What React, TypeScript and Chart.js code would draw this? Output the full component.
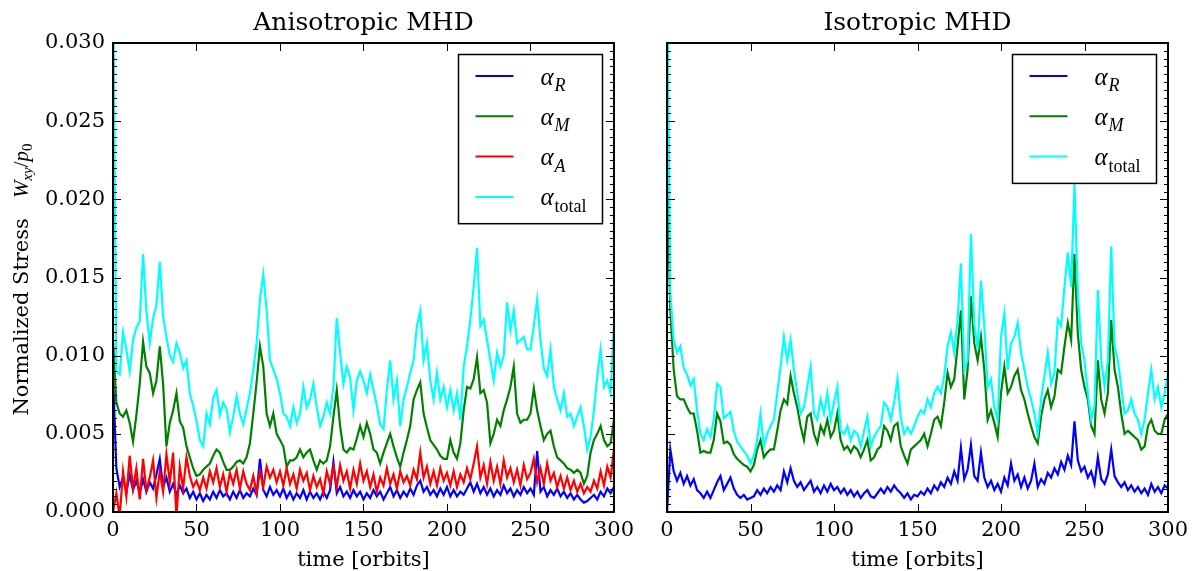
import React, { useEffect, useRef } from "react";
import { Chart, registerables } from "chart.js";

Chart.register(...registerables);

// ---------- data ----------
const TIME: number[] = Array.from({ length: 151 }, (_, i) => i * 2); // orbits 0..300, step 2
const X_TICKS = [0, 50, 100, 150, 200, 250, 300];
const Y_TICKS = [0, 0.005, 0.01, 0.015, 0.02, 0.025, 0.03];
const Y_TICK_LABELS = ["0.000", "0.005", "0.010", "0.015", "0.020", "0.025", "0.030"];
const PANEL_TITLES = ["Anisotropic MHD", "Isotropic MHD"];
const X_LABEL = "time [orbits]";
const Y_LABEL = "Normalized Stress";

// Anisotropic MHD
const ANISO_R = [0.0088,
  0.0028, 0.0016, 0.0022, 0.0013, 0.0024, 0.0014, 0.0020, 0.0012, 0.0021, 0.0013,
  0.0019, 0.0015, 0.0024, 0.0034, 0.0016, 0.0022, 0.0013, 0.0018, 0.0011, 0.0017,
  0.0012, 0.0015, 0.0009, 0.0013, 0.0008, 0.0012, 0.0007, 0.0011, 0.0008, 0.0013,
  0.0009, 0.0014, 0.0010, 0.0012, 0.0008, 0.0013, 0.0009, 0.0014, 0.0009, 0.0012,
  0.0010, 0.0015, 0.0011, 0.0034, 0.0014, 0.0010, 0.0016, 0.0011, 0.0014, 0.0010,
  0.0015, 0.0009, 0.0013, 0.0008, 0.0012, 0.0009, 0.0014, 0.0008, 0.0013, 0.0009,
  0.0012, 0.0008, 0.0013, 0.0009, 0.0014, 0.0032, 0.0012, 0.0016, 0.0010, 0.0013,
  0.0009, 0.0014, 0.0010, 0.0013, 0.0008, 0.0012, 0.0009, 0.0014, 0.0010, 0.0013,
  0.0008, 0.0012, 0.0016, 0.0010, 0.0014, 0.0009, 0.0013, 0.0010, 0.0015, 0.0011,
  0.0017, 0.0020, 0.0013, 0.0016, 0.0011, 0.0014, 0.0010, 0.0015, 0.0011, 0.0016,
  0.0010, 0.0014, 0.0010, 0.0013, 0.0011, 0.0015, 0.0019, 0.0013, 0.0018, 0.0012,
  0.0016, 0.0011, 0.0015, 0.0010, 0.0014, 0.0011, 0.0017, 0.0012, 0.0015, 0.0010,
  0.0014, 0.0011, 0.0016, 0.0012, 0.0015, 0.0011, 0.0039, 0.0013, 0.0016, 0.0010,
  0.0014, 0.0011, 0.0015, 0.0010, 0.0013, 0.0009, 0.0012, 0.0008, 0.0011, 0.0008,
  0.0006, 0.0007, 0.0009, 0.0011, 0.0008, 0.0013, 0.0010, 0.0015, 0.0012, 0.0016];

const ANISO_M = [0.0110,
  0.0070, 0.0063, 0.0061, 0.0065, 0.0057, 0.0045, 0.0062, 0.0082, 0.0109, 0.0093,
  0.0089, 0.0076, 0.0084, 0.0106, 0.0082, 0.0042, 0.0057, 0.0065, 0.0076, 0.0058,
  0.0054, 0.0042, 0.0035, 0.0028, 0.0023, 0.0024, 0.0027, 0.0029, 0.0031, 0.0036,
  0.0040, 0.0038, 0.0032, 0.0027, 0.0027, 0.0029, 0.0032, 0.0033, 0.0031, 0.0035,
  0.0044, 0.0063, 0.0083, 0.0106, 0.0093, 0.0063, 0.0055, 0.0063, 0.0050, 0.0046,
  0.0042, 0.0029, 0.0033, 0.0033, 0.0035, 0.0040, 0.0035, 0.0038, 0.0040, 0.0033,
  0.0027, 0.0033, 0.0031, 0.0033, 0.0042, 0.0061, 0.0078, 0.0055, 0.0040, 0.0038,
  0.0041, 0.0040, 0.0047, 0.0055, 0.0048, 0.0057, 0.0050, 0.0040, 0.0038, 0.0031,
  0.0038, 0.0044, 0.0050, 0.0042, 0.0035, 0.0029, 0.0038, 0.0046, 0.0055, 0.0072,
  0.0078, 0.0083, 0.0063, 0.0054, 0.0046, 0.0043, 0.0040, 0.0036, 0.0034, 0.0034,
  0.0046, 0.0038, 0.0034, 0.0044, 0.0065, 0.0080, 0.0079, 0.0085, 0.0099, 0.0076,
  0.0078, 0.0070, 0.0044, 0.0050, 0.0059, 0.0055, 0.0065, 0.0072, 0.0080, 0.0093,
  0.0063, 0.0057, 0.0059, 0.0059, 0.0063, 0.0079, 0.0065, 0.0055, 0.0046, 0.0050,
  0.0052, 0.0042, 0.0035, 0.0033, 0.0031, 0.0028, 0.0027, 0.0025, 0.0027, 0.0025,
  0.0018, 0.0023, 0.0038, 0.0046, 0.0050, 0.0055, 0.0046, 0.0042, 0.0044, 0.0059];

const ANISO_A = [0.0000,
  0.0012, -0.0003, 0.0026, 0.0010, 0.0036, 0.0015, 0.0028, 0.0008, 0.0034, 0.0014,
  0.0022, 0.0033, 0.0009, 0.0026, 0.0013, 0.0037, 0.0019, 0.0038, -0.0003, 0.0029,
  0.0015, 0.0035, 0.0023, 0.0016, 0.0020, 0.0014, 0.0022, 0.0015, 0.0026, 0.0019,
  0.0028, 0.0016, 0.0024, 0.0013, 0.0025, 0.0018, 0.0027, 0.0015, 0.0026, 0.0018,
  0.0014, 0.0023, 0.0012, 0.0026, 0.0016, 0.0029, 0.0022, 0.0027, 0.0019, 0.0026,
  0.0017, 0.0028, 0.0018, 0.0024, 0.0015, 0.0027, 0.0020, 0.0025, 0.0014, 0.0023,
  0.0016, 0.0021, 0.0012, 0.0026, 0.0018, 0.0029, 0.0016, 0.0030, 0.0020, 0.0026,
  0.0015, 0.0027, 0.0018, 0.0031, 0.0020, 0.0026, 0.0016, 0.0024, 0.0013, 0.0022,
  0.0017, 0.0028, 0.0018, 0.0024, 0.0015, 0.0026, 0.0019, 0.0023, 0.0017, 0.0027,
  0.0021, 0.0038, 0.0022, 0.0029, 0.0018, 0.0026, 0.0017, 0.0028, 0.0020, 0.0025,
  0.0017, 0.0026, 0.0016, 0.0024, 0.0019, 0.0028, 0.0021, 0.0031, 0.0042, 0.0022,
  0.0030, 0.0018, 0.0032, 0.0020, 0.0029, 0.0018, 0.0033, 0.0022, 0.0028, 0.0019,
  0.0027, 0.0017, 0.0030, 0.0021, 0.0025, 0.0034, 0.0019, 0.0028, 0.0018, 0.0031,
  0.0020, 0.0025, 0.0016, 0.0023, 0.0015, 0.0022, 0.0014, 0.0020, 0.0013, 0.0018,
  0.0012, 0.0016, 0.0013, 0.0020, 0.0015, 0.0026, 0.0017, 0.0029, 0.0022, 0.0040];

const ANISO_TOTAL = [0.0350,
  0.0090, 0.0088, 0.0115, 0.0104, 0.0090, 0.0110, 0.0118, 0.0122, 0.0165, 0.0128,
  0.0108, 0.0124, 0.0132, 0.0160, 0.0125, 0.0112, 0.0100, 0.0096, 0.0108, 0.0102,
  0.0092, 0.0097, 0.0076, 0.0068, 0.0058, 0.0046, 0.0042, 0.0063, 0.0056, 0.0073,
  0.0078, 0.0062, 0.0070, 0.0066, 0.0051, 0.0061, 0.0074, 0.0063, 0.0056, 0.0066,
  0.0076, 0.0091, 0.0108, 0.0136, 0.0152, 0.0129, 0.0097, 0.0091, 0.0085, 0.0076,
  0.0063, 0.0061, 0.0055, 0.0067, 0.0057, 0.0063, 0.0080, 0.0067, 0.0072, 0.0082,
  0.0067, 0.0055, 0.0061, 0.0070, 0.0063, 0.0080, 0.0124, 0.0102, 0.0082, 0.0093,
  0.0086, 0.0065, 0.0084, 0.0090, 0.0084, 0.0076, 0.0088, 0.0078, 0.0068, 0.0056,
  0.0053, 0.0078, 0.0097, 0.0072, 0.0084, 0.0055, 0.0072, 0.0080, 0.0089, 0.0097,
  0.0119, 0.0129, 0.0097, 0.0108, 0.0084, 0.0072, 0.0089, 0.0072, 0.0080, 0.0067,
  0.0078, 0.0065, 0.0076, 0.0059, 0.0093, 0.0106, 0.0123, 0.0144, 0.0169, 0.0119,
  0.0123, 0.0110, 0.0097, 0.0084, 0.0102, 0.0093, 0.0100, 0.0134, 0.0116, 0.0129,
  0.0108, 0.0110, 0.0112, 0.0104, 0.0104, 0.0119, 0.0136, 0.0110, 0.0092, 0.0087,
  0.0104, 0.0080, 0.0072, 0.0065, 0.0076, 0.0061, 0.0063, 0.0055, 0.0061, 0.0067,
  0.0055, 0.0040, 0.0048, 0.0065, 0.0087, 0.0104, 0.0080, 0.0084, 0.0076, 0.0120];

// Isotropic MHD
const ISO_R = [0.0000,
  0.0040, 0.0026, 0.0020, 0.0025, 0.0018, 0.0023, 0.0017, 0.0021, 0.0014, 0.0012,
  0.0009, 0.0013, 0.0009, 0.0014, 0.0019, 0.0023, 0.0014, 0.0018, 0.0022, 0.0015,
  0.0011, 0.0009, 0.0011, 0.0008, 0.0009, 0.0010, 0.0014, 0.0011, 0.0015, 0.0012,
  0.0016, 0.0013, 0.0017, 0.0014, 0.0026, 0.0019, 0.0028, 0.0020, 0.0016, 0.0019,
  0.0014, 0.0017, 0.0020, 0.0013, 0.0016, 0.0012, 0.0017, 0.0013, 0.0018, 0.0014,
  0.0016, 0.0012, 0.0015, 0.0011, 0.0014, 0.0010, 0.0013, 0.0009, 0.0012, 0.0014,
  0.0010, 0.0009, 0.0012, 0.0015, 0.0012, 0.0016, 0.0013, 0.0017, 0.0014, 0.0012,
  0.0009, 0.0012, 0.0008, 0.0011, 0.0010, 0.0013, 0.0011, 0.0015, 0.0012, 0.0017,
  0.0014, 0.0019, 0.0016, 0.0022, 0.0018, 0.0026, 0.0020, 0.0041, 0.0021, 0.0027,
  0.0043, 0.0023, 0.0020, 0.0038, 0.0022, 0.0016, 0.0020, 0.0014, 0.0018, 0.0013,
  0.0022, 0.0017, 0.0031, 0.0020, 0.0024, 0.0016, 0.0022, 0.0015, 0.0020, 0.0031,
  0.0016, 0.0021, 0.0018, 0.0025, 0.0022, 0.0028, 0.0024, 0.0032, 0.0027, 0.0036,
  0.0030, 0.0058, 0.0033, 0.0026, 0.0029, 0.0022, 0.0026, 0.0018, 0.0035, 0.0021,
  0.0018, 0.0024, 0.0040, 0.0023, 0.0019, 0.0016, 0.0019, 0.0014, 0.0017, 0.0013,
  0.0016, 0.0012, 0.0015, 0.0011, 0.0018, 0.0013, 0.0016, 0.0012, 0.0017, 0.0015];

const ISO_M = [0.0220,
  0.0129, 0.0091, 0.0074, 0.0072, 0.0072, 0.0067, 0.0063, 0.0063, 0.0052, 0.0038,
  0.0039, 0.0038, 0.0038, 0.0046, 0.0063, 0.0058, 0.0044, 0.0045, 0.0043, 0.0037,
  0.0034, 0.0032, 0.0030, 0.0029, 0.0026, 0.0030, 0.0040, 0.0046, 0.0035, 0.0038,
  0.0040, 0.0040, 0.0052, 0.0065, 0.0072, 0.0069, 0.0087, 0.0076, 0.0067, 0.0055,
  0.0046, 0.0061, 0.0063, 0.0050, 0.0044, 0.0055, 0.0050, 0.0059, 0.0048, 0.0052,
  0.0063, 0.0046, 0.0040, 0.0042, 0.0038, 0.0042, 0.0040, 0.0035, 0.0040, 0.0046,
  0.0033, 0.0035, 0.0040, 0.0042, 0.0055, 0.0052, 0.0046, 0.0055, 0.0057, 0.0042,
  0.0036, 0.0031, 0.0040, 0.0042, 0.0044, 0.0046, 0.0050, 0.0042, 0.0050, 0.0059,
  0.0061, 0.0055, 0.0070, 0.0089, 0.0080, 0.0085, 0.0106, 0.0129, 0.0072, 0.0091,
  0.0138, 0.0108, 0.0097, 0.0112, 0.0091, 0.0059, 0.0065, 0.0057, 0.0048, 0.0076,
  0.0093, 0.0076, 0.0080, 0.0087, 0.0091, 0.0078, 0.0072, 0.0063, 0.0055, 0.0048,
  0.0044, 0.0061, 0.0072, 0.0078, 0.0067, 0.0074, 0.0091, 0.0089, 0.0106, 0.0121,
  0.0110, 0.0165, 0.0114, 0.0091, 0.0080, 0.0072, 0.0055, 0.0050, 0.0097, 0.0072,
  0.0063, 0.0076, 0.0123, 0.0091, 0.0080, 0.0063, 0.0050, 0.0052, 0.0050, 0.0048,
  0.0046, 0.0040, 0.0042, 0.0055, 0.0059, 0.0052, 0.0050, 0.0050, 0.0059, 0.0063];

const ISO_TOTAL = [0.0350,
  0.0140, 0.0110, 0.0102, 0.0106, 0.0092, 0.0088, 0.0081, 0.0085, 0.0065, 0.0050,
  0.0046, 0.0053, 0.0048, 0.0059, 0.0082, 0.0080, 0.0060, 0.0062, 0.0064, 0.0052,
  0.0045, 0.0042, 0.0039, 0.0036, 0.0031, 0.0036, 0.0046, 0.0063, 0.0042, 0.0050,
  0.0055, 0.0059, 0.0076, 0.0093, 0.0112, 0.0097, 0.0110, 0.0091, 0.0076, 0.0063,
  0.0067, 0.0080, 0.0093, 0.0063, 0.0059, 0.0072, 0.0063, 0.0076, 0.0059, 0.0070,
  0.0080, 0.0052, 0.0050, 0.0055, 0.0046, 0.0052, 0.0050, 0.0042, 0.0052, 0.0061,
  0.0042, 0.0048, 0.0052, 0.0055, 0.0070, 0.0067, 0.0059, 0.0070, 0.0085, 0.0060,
  0.0050, 0.0054, 0.0050, 0.0055, 0.0061, 0.0065, 0.0063, 0.0072, 0.0067, 0.0076,
  0.0080, 0.0076, 0.0087, 0.0106, 0.0115, 0.0102, 0.0123, 0.0159, 0.0091, 0.0097,
  0.0178, 0.0120, 0.0104, 0.0148, 0.0119, 0.0080, 0.0085, 0.0067, 0.0059, 0.0112,
  0.0127, 0.0091, 0.0108, 0.0112, 0.0121, 0.0102, 0.0091, 0.0080, 0.0072, 0.0063,
  0.0050, 0.0072, 0.0087, 0.0102, 0.0082, 0.0089, 0.0123, 0.0119, 0.0144, 0.0166,
  0.0144, 0.0210, 0.0140, 0.0108, 0.0097, 0.0076, 0.0059, 0.0068, 0.0142, 0.0097,
  0.0080, 0.0097, 0.0170, 0.0106, 0.0097, 0.0080, 0.0063, 0.0065, 0.0072, 0.0063,
  0.0059, 0.0050, 0.0059, 0.0076, 0.0091, 0.0072, 0.0080, 0.0067, 0.0076, 0.0089];

// ---------- styling ----------
const BLUE = "#0000ff";
const GREEN = "#008000";
const RED = "#ff0000";
const CYAN = "#00ffff";
const SERIF = '"DejaVu Serif", serif';
const MATH = '"Liberation Serif", "DejaVu Serif", serif';

type Series = { sub: string; subItalic: boolean; color: string; data: number[] };

const ANISO_SERIES: Series[] = [
  { sub: "R", subItalic: true, color: BLUE, data: ANISO_R },
  { sub: "M", subItalic: true, color: GREEN, data: ANISO_M },
  { sub: "A", subItalic: true, color: RED, data: ANISO_A },
  { sub: "total", subItalic: false, color: CYAN, data: ANISO_TOTAL },
];
const ISO_SERIES: Series[] = [
  { sub: "R", subItalic: true, color: BLUE, data: ISO_R },
  { sub: "M", subItalic: true, color: GREEN, data: ISO_M },
  { sub: "total", subItalic: false, color: CYAN, data: ISO_TOTAL },
];

type Run = { text: string; font: string; dy: number };

function runsWidth(ctx: CanvasRenderingContext2D, runs: Run[]) {
  let w = 0;
  runs.forEach((r) => {
    ctx.font = r.font;
    w += ctx.measureText(r.text).width;
  });
  return w;
}

function drawRuns(ctx: CanvasRenderingContext2D, runs: Run[], x: number, y: number) {
  let cx = x;
  runs.forEach((r) => {
    ctx.font = r.font;
    ctx.fillText(r.text, cx, y + r.dy);
    cx += ctx.measureText(r.text).width;
  });
}

function makeDecor(title: string, series: Series[], showYLabel: boolean) {
  return {
    id: "decor",
    afterDraw(chart: any) {
      const ctx: CanvasRenderingContext2D = chart.ctx;
      const a = chart.chartArea;
      const xs = chart.scales.x;
      const ys = chart.scales.y;
      ctx.save();

      // inward ticks
      ctx.strokeStyle = "#000";
      ctx.lineWidth = 1;
      ctx.beginPath();
      X_TICKS.forEach((v) => {
        const px = Math.round(xs.getPixelForValue(v)) + 0.5;
        ctx.moveTo(px, a.bottom);
        ctx.lineTo(px, a.bottom - 8);
        ctx.moveTo(px, a.top);
        ctx.lineTo(px, a.top + 8);
      });
      for (let i = 0; i < Y_TICKS.length - 1; i++) {
        const lo = Y_TICKS[i];
        const hi = Y_TICKS[i + 1];
        for (let k = 0; k <= 10; k++) {
          const v = lo + ((hi - lo) * k) / 10;
          const py = Math.round(ys.getPixelForValue(v)) + 0.5;
          const len = k === 0 || k === 10 ? 8 : 4;
          ctx.moveTo(a.left, py);
          ctx.lineTo(a.left + len, py);
          ctx.moveTo(a.right, py);
          ctx.lineTo(a.right - len, py);
        }
      }
      ctx.stroke();

      // frame
      ctx.lineWidth = 2;
      ctx.strokeRect(a.left, a.top, a.right - a.left, a.bottom - a.top);

      // titles
      ctx.fillStyle = "#000";
      ctx.textAlign = "center";
      ctx.textBaseline = "alphabetic";
      const cxp = (a.left + a.right) / 2;
      ctx.font = `25px ${SERIF}`;
      ctx.fillText(title, cxp, 29.5);
      ctx.font = `21px ${SERIF}`;
      ctx.fillText(X_LABEL, cxp, 566);

      // y label
      if (showYLabel) {
        ctx.save();
        ctx.translate(27.5, 279.5);
        ctx.rotate(-Math.PI / 2);
        ctx.textAlign = "left";
        ctx.textBaseline = "alphabetic";
        const runs: Run[] = [
          { text: Y_LABEL + "   ", font: `21px ${SERIF}`, dy: 0 },
          { text: "W", font: `italic 21px ${MATH}`, dy: 0 },
          { text: "xy", font: `italic 15px ${MATH}`, dy: 4 },
          { text: "/", font: `21px ${MATH}`, dy: 0 },
          { text: "p", font: `italic 21px ${MATH}`, dy: 0 },
          { text: "0", font: `15px ${MATH}`, dy: 4 },
        ];
        const w = runsWidth(ctx, runs);
        drawRuns(ctx, runs, -w / 2, 0);
        ctx.restore();
      }

      // legend
      const bw = 144;
      const rowH = 40.3;
      const bh = series.length * rowH + 8;
      const bx = Math.round(a.right - 12 - bw) + 0.5;
      const by = Math.round(a.top + 11) + 0.5;
      ctx.fillStyle = "#fff";
      ctx.fillRect(bx, by, bw, bh);
      ctx.strokeStyle = "#000";
      ctx.lineWidth = 1.5;
      ctx.strokeRect(bx, by, bw, bh);
      ctx.textAlign = "left";
      ctx.textBaseline = "alphabetic";
      series.forEach((s, i) => {
        const ry = by + 21.5 + i * rowH;
        ctx.strokeStyle = s.color;
        ctx.lineWidth = 2;
        ctx.beginPath();
        ctx.moveTo(bx + 17, ry);
        ctx.lineTo(bx + 55, ry);
        ctx.stroke();
        ctx.fillStyle = "#000";
        ctx.font = `italic 25px ${MATH}`;
        ctx.fillText("α", bx + 82, ry + 8.5);
        const aw = ctx.measureText("α").width;
        ctx.font = s.subItalic ? `italic 18px ${MATH}` : `18px ${MATH}`;
        ctx.fillText(s.sub, bx + 82 + aw + 1, ry + 15);
      });

      ctx.restore();
    },
  };
}

type PanelProps = {
  title: string;
  series: Series[];
  left: number;
  width: number;
  yWidth: number;
  rightPad: number;
  showY: boolean;
};

function Panel({ title, series, left, width, yWidth, rightPad, showY }: PanelProps) {
  const ref = useRef<HTMLCanvasElement | null>(null);
  useEffect(() => {
    const canvas = ref.current;
    if (!canvas) return;
    const tickFont = { family: '"DejaVu Serif", serif', size: 21 };
    const chart = new Chart(canvas, {
      type: "line",
      data: {
        datasets: series.map((s, i) => ({
          data: TIME.map((t, j) => ({ x: t, y: s.data[j] })),
          borderColor: s.color,
          backgroundColor: s.color,
          borderWidth: 2.2,
          pointRadius: 0,
          fill: false,
          tension: 0,
          order: series.length - i,
        })),
      },
      options: {
        animation: false,
        responsive: false,
        devicePixelRatio: 1,
        events: [],
        layout: { padding: { top: 43, right: rightPad, left: 0, bottom: 0 } },
        plugins: { legend: { display: false }, tooltip: { enabled: false }, title: { display: false } },
        scales: {
          x: {
            type: "linear",
            min: 0,
            max: 300,
            afterBuildTicks: (s: any) => {
              s.ticks = X_TICKS.map((v) => ({ value: v }));
            },
            afterFit: (s: any) => {
              s.height = 59;
            },
            grid: { display: false, drawTicks: false },
            border: { display: false },
            ticks: {
              font: tickFont,
              color: "#000",
              padding: 6,
              maxRotation: 0,
              autoSkip: false,
              callback: (v: any) => String(v),
            },
          },
          y: {
            type: "linear",
            min: 0,
            max: 0.03,
            afterBuildTicks: (s: any) => {
              s.ticks = Y_TICKS.map((v) => ({ value: v }));
            },
            afterFit: (s: any) => {
              s.width = yWidth;
            },
            grid: { display: false, drawTicks: false },
            border: { display: false },
            ticks: {
              display: showY,
              font: tickFont,
              color: "#000",
              padding: 8,
              autoSkip: false,
              callback: (_v: any, i: number) => Y_TICK_LABELS[i],
            },
          },
        },
      } as any,
      plugins: [makeDecor(title, series, showY)],
    });
    return () => chart.destroy();
  }, []);
  return (
    <canvas
      ref={ref}
      width={width}
      height={571}
      style={{ position: "absolute", left, top: 0, width, height: 571, display: "block" }}
    />
  );
}

export default function App() {
  return (
    <div style={{ position: "fixed", left: 0, top: 0, width: 1196, height: 571, background: "#fff", overflow: "hidden" }}>
      <Panel title={PANEL_TITLES[0]} series={ANISO_SERIES} left={0} width={640} yWidth={113} rightPad={26} showY={true} />
      <Panel title={PANEL_TITLES[1]} series={ISO_SERIES} left={640} width={556} yWidth={27} rightPad={28} showY={false} />
    </div>
  );
}
